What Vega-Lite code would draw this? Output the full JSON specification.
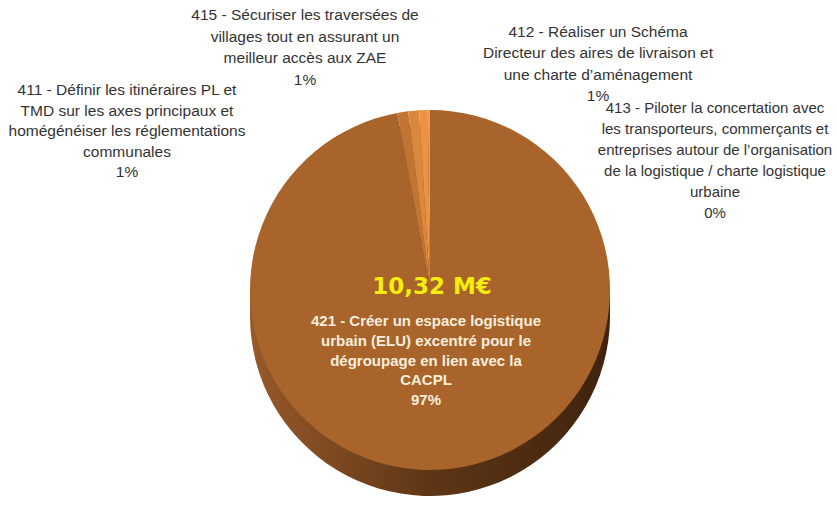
{
  "$schema": "https://vega.github.io/schema/vega-lite/v6.json",
  "width": 360,
  "height": 360,
  "autosize": {"type": "none"},
  "padding": {"left": 250, "top": 110, "right": 227, "bottom": 36},
  "background": "white",
  "config": {"view": {"stroke": null}},
  "data": {"values": [
    {"id": "421", "order": 1, "value": 10.02, "label": "421 - Créer un espace logistique\nurbain (ELU) excentré pour le\ndégroupage en lien avec la\nCACPL"},
    {"id": "411", "order": 2, "value": 0.10, "label": "411 - Définir les itinéraires PL et\nTMD sur les axes principaux et\nhomégénéiser les réglementations\ncommunales"},
    {"id": "415", "order": 3, "value": 0.10, "label": "415 - Sécuriser les traversées de\nvillages tout en assurant un\nmeilleur accès aux ZAE"},
    {"id": "412", "order": 4, "value": 0.08, "label": "412 - Réaliser un Schéma\nDirecteur des aires de livraison et\nune charte d’aménagement"},
    {"id": "413", "order": 5, "value": 0.02, "label": "413 - Piloter la concertation avec\nles transporteurs, commerçants et\nentreprises autour de l’organisation\nde la logistique / charte logistique\nurbaine"}
  ]},
  "transform": [
    {"joinaggregate": [{"op": "sum", "field": "value", "as": "total"}]},
    {"calculate": "datum.label + '\\n' + format(datum.value / datum.total, '.0%')", "as": "fullLabel"},
    {"calculate": "replace(format(datum.total, '.2f'), '.', ',') + ' M€'", "as": "totalLabel"}
  ],
  "layer": [
    {
      "mark": {"type": "arc", "yOffset": 26, "stroke": null, "fill": {"gradient": "linear", "x1": 0, "y1": 0, "x2": 1, "y2": 0, "stops": [{"offset": 0, "color": "#97592A"}, {"offset": 0.5, "color": "#5E3616"}, {"offset": 1, "color": "#3F230E"}]}},
      "encoding": {
        "theta": {"field": "value", "type": "quantitative", "stack": true},
        "order": {"field": "order", "type": "quantitative"}
      }
    },
    {
      "mark": {"type": "arc", "yOffset": 13, "stroke": null, "fill": {"gradient": "linear", "x1": 0, "y1": 0, "x2": 1, "y2": 0, "stops": [{"offset": 0, "color": "#97592A"}, {"offset": 0.5, "color": "#5E3616"}, {"offset": 1, "color": "#3F230E"}]}},
      "encoding": {
        "theta": {"field": "value", "type": "quantitative", "stack": true},
        "order": {"field": "order", "type": "quantitative"}
      }
    },
    {
      "mark": {"type": "arc", "stroke": null},
      "encoding": {
        "theta": {"field": "value", "type": "quantitative", "stack": true},
        "order": {"field": "order", "type": "quantitative"},
        "color": {"field": "id", "type": "nominal", "legend": null,
          "scale": {"domain": ["421", "411", "415", "412", "413"], "range": ["#A8642A", "#C27433", "#DB883F", "#EC9243", "#F29A4C"]}}
      }
    },
    {
      "transform": [{"filter": "datum.id === '421'"}],
      "mark": {"type": "text", "font": "DejaVu Sans", "fontWeight": "bold", "fontSize": 23, "fill": "#F4EE0A", "align": "center", "baseline": "middle", "dx": 2, "dy": -3},
      "encoding": {"text": {"field": "totalLabel"}}
    },
    {
      "transform": [{"filter": "datum.id === '421'"}],
      "mark": {"type": "text", "font": "Liberation Sans", "fontWeight": "bold", "fontSize": 15, "lineHeight": 19.8, "lineBreak": "\n", "fill": "#F8EEDD", "align": "center", "baseline": "middle", "dx": -4, "dy": 31},
      "encoding": {"text": {"field": "fullLabel"}}
    },
    {
      "transform": [{"filter": "datum.id === '415'"}],
      "mark": {"type": "text", "font": "Liberation Sans", "fontSize": 15.5, "lineHeight": 21.7, "lineBreak": "\n", "fill": "#333333", "align": "center", "baseline": "middle", "dx": -125, "dy": -275},
      "encoding": {"text": {"field": "fullLabel"}}
    },
    {
      "transform": [{"filter": "datum.id === '411'"}],
      "mark": {"type": "text", "font": "Liberation Sans", "fontSize": 15.5, "lineHeight": 20.5, "lineBreak": "\n", "fill": "#333333", "align": "center", "baseline": "middle", "dx": -303, "dy": -200},
      "encoding": {"text": {"field": "fullLabel"}}
    },
    {
      "transform": [{"filter": "datum.id === '412'"}],
      "mark": {"type": "text", "font": "Liberation Sans", "fontSize": 15.5, "lineHeight": 21.3, "lineBreak": "\n", "fill": "#333333", "align": "center", "baseline": "middle", "dx": 168, "dy": -258},
      "encoding": {"text": {"field": "fullLabel"}}
    },
    {
      "transform": [{"filter": "datum.id === '413'"}],
      "mark": {"type": "text", "font": "Liberation Sans", "fontSize": 15, "lineHeight": 21, "lineBreak": "\n", "fill": "#333333", "align": "center", "baseline": "middle", "dx": 285, "dy": -182},
      "encoding": {"text": {"field": "fullLabel"}}
    }
  ]
}
